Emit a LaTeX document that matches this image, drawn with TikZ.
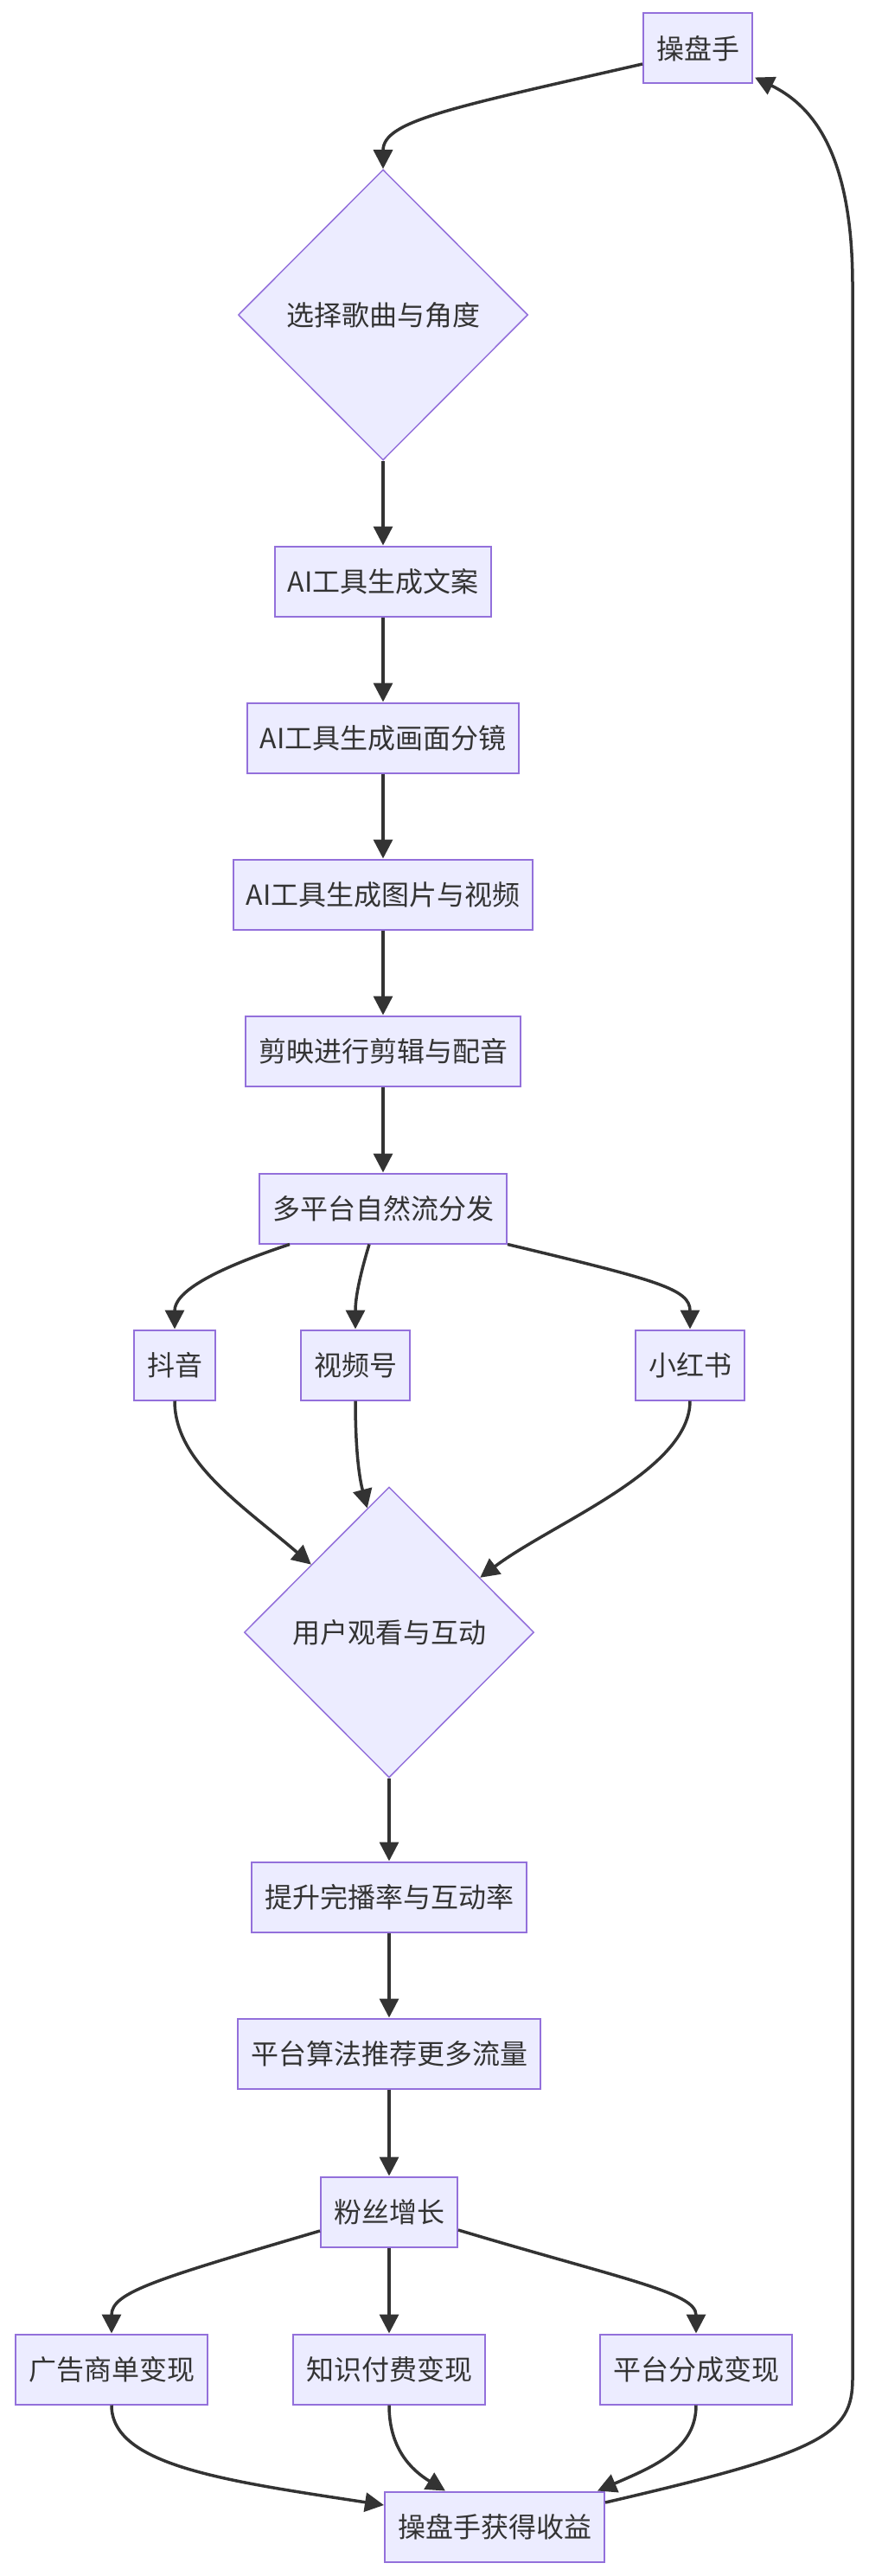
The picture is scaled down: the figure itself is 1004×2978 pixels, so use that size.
\documentclass[tikz,border=0pt]{standalone}
\usepackage{fontspec}
\setmainfont{Noto Sans CJK SC}
\usepackage{tikz}
\usetikzlibrary{positioning,arrows.meta,shapes.geometric}
\definecolor{nodefill}{HTML}{ECECFF}
\definecolor{nodeline}{HTML}{9370DB}
\definecolor{inkgray}{HTML}{333333}
\tikzset{
  stepbox/.style={draw=nodeline,fill=nodefill,line width=2pt,text=inkgray,
    minimum height=81pt,inner xsep=15pt,font=\fontsize{32pt}{38pt}\selectfont},
  choice/.style={diamond,draw=nodeline,fill=nodefill,line width=1.5pt,text=inkgray,
    minimum width=335pt,minimum height=336pt,inner sep=0pt,font=\fontsize{32pt}{38pt}\selectfont},
  flow/.style={draw=inkgray,line width=3.5pt,-{Triangle[length=22pt,width=22pt]}}
}

\begin{document}
\begin{tikzpicture}[x=1pt,y=-1pt]
        \useasboundingbox (0,0) rectangle (1004,2978);
        \node[stepbox] (czs) at (807,56) {操盘手};
        \node[choice] (xuanze) at (443,364) {选择歌曲与角度};
        \node[stepbox] (wenan) at (443,672) {AI工具生成文案};
        \node[stepbox] (fenjing) at (443,853) {AI工具生成画面分镜};
        \node[stepbox] (tupian) at (443,1034) {AI工具生成图片与视频};
        \node[stepbox] (jianying) at (443,1215) {剪映进行剪辑与配音};
        \node[stepbox] (fenfa) at (443,1397) {多平台自然流分发};
        \node[stepbox] (douyin) at (202,1578) {抖音};
        \node[stepbox] (shipinhao) at (411,1578) {视频号};
        \node[stepbox] (xhs) at (798,1578) {小红书};
        \node[choice] (hudong) at (450,1887) {用户观看与互动};
        \node[stepbox] (wanbo) at (450,2193) {提升完播率与互动率};
        \node[stepbox] (suanfa) at (450,2374) {平台算法推荐更多流量};
        \node[stepbox] (fensi) at (450,2557) {粉丝增长};
        \node[stepbox] (guanggao) at (129,2739) {广告商单变现};
        \node[stepbox] (zhishi) at (450,2739) {知识付费变现};
        \node[stepbox] (fencheng) at (805,2739) {平台分成变现};
        \node[stepbox] (shouyi) at (572,2921) {操盘手获得收益};

        \foreach \a/\b in {xuanze/wenan,wenan/fenjing,fenjing/tupian,tupian/jianying,
          jianying/fenfa,hudong/wanbo,wanbo/suanfa,suanfa/fensi,fensi/zhishi}{
          \draw[flow] (\a) -- (\b);
        }
        \draw[flow] ([yshift=-18pt]czs.west) .. controls (520,125) and (443,140) .. (xuanze.north);
        \draw[flow] ([xshift=-108pt]fenfa.south) .. controls (240,1470) and (202,1495) .. (douyin.north);
        \draw[flow] ([xshift=-16pt]fenfa.south) .. controls (416,1475) and (411,1500) .. (shipinhao.north);
        \draw[flow] (fenfa.south east) .. controls (760,1480) and (798,1490) .. (xhs.north);
        \draw[flow] (douyin.south) .. controls (202,1690) and (280,1740) .. (hudong.139);
        \draw[flow] (shipinhao.south) .. controls (411,1680) and (416,1710) .. (hudong.100);
        \draw[flow] (xhs.south) .. controls (798,1700) and (640,1760) .. (hudong.31);
        \draw[flow] ([yshift=-22pt]fensi.west) .. controls (180,2635) and (129,2650) .. (guanggao.north);
        \draw[flow] ([yshift=-21pt]fensi.east) .. controls (720,2635) and (805,2650) .. (fencheng.north);
        \draw[flow] (guanggao.south) .. controls (129,2850) and (260,2868) .. ([yshift=25pt]shouyi.west);
        \draw[flow] (zhishi.south) .. controls (450,2830) and (475,2855) .. ([xshift=-57pt]shouyi.north);
        \draw[flow] (fencheng.south) .. controls (805,2830) and (760,2850) .. ([xshift=119pt]shouyi.north);
        \draw[flow] ([yshift=28pt]shouyi.east) .. controls (950,2835) and (986,2815) .. (986,2750)
          -- (986,330) .. controls (986,170) and (935,120) .. ([shift={(2pt,8pt)}]czs.south east);
      \end{tikzpicture}
\end{document}
